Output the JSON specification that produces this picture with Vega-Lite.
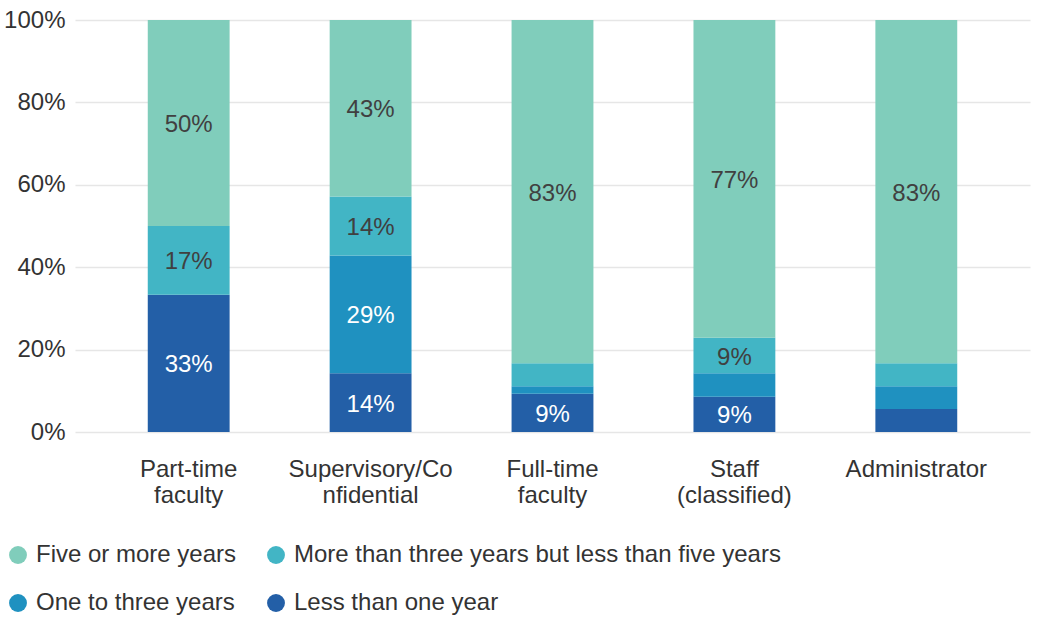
{
  "$schema": "https://vega.github.io/schema/vega-lite/v6.json",
  "width": 955,
  "height": 412,
  "autosize": {"type": "none"},
  "padding": {"left": 75, "top": 20, "right": 7, "bottom": 185},
  "background": "white",
  "config": {
    "view": {"stroke": null},
    "font": "Arial, Liberation Sans, sans-serif",
    "axis": {"labelFont": "Arial, Liberation Sans, sans-serif", "labelFontSize": 24, "labelColor": "#333333"},
    "legend": {"labelFont": "Arial, Liberation Sans, sans-serif", "labelFontSize": 24, "labelColor": "#333333"}
  },
  "data": {
    "values": [
      {"role": "Part-time faculty", "tenure": "Less than one year", "value": 0.3333},
      {"role": "Part-time faculty", "tenure": "One to three years", "value": 0},
      {"role": "Part-time faculty", "tenure": "More than three years but less than five years", "value": 0.1667},
      {"role": "Part-time faculty", "tenure": "Five or more years", "value": 0.5},
      {"role": "Supervisory/Confidential", "tenure": "Less than one year", "value": 0.1429},
      {"role": "Supervisory/Confidential", "tenure": "One to three years", "value": 0.2857},
      {"role": "Supervisory/Confidential", "tenure": "More than three years but less than five years", "value": 0.1429},
      {"role": "Supervisory/Confidential", "tenure": "Five or more years", "value": 0.4285},
      {"role": "Full-time faculty", "tenure": "Less than one year", "value": 0.0926},
      {"role": "Full-time faculty", "tenure": "One to three years", "value": 0.0185},
      {"role": "Full-time faculty", "tenure": "More than three years but less than five years", "value": 0.0556},
      {"role": "Full-time faculty", "tenure": "Five or more years", "value": 0.8333},
      {"role": "Staff (classified)", "tenure": "Less than one year", "value": 0.0857},
      {"role": "Staff (classified)", "tenure": "One to three years", "value": 0.0571},
      {"role": "Staff (classified)", "tenure": "More than three years but less than five years", "value": 0.0857},
      {"role": "Staff (classified)", "tenure": "Five or more years", "value": 0.7715},
      {"role": "Administrator", "tenure": "Less than one year", "value": 0.0556},
      {"role": "Administrator", "tenure": "One to three years", "value": 0.0556},
      {"role": "Administrator", "tenure": "More than three years but less than five years", "value": 0.0556},
      {"role": "Administrator", "tenure": "Five or more years", "value": 0.8332}
    ]
  },
  "transform": [
    {"calculate": "indexof(['Less than one year','One to three years','More than three years but less than five years','Five or more years'], datum.tenure)", "as": "ord"},
    {"stack": "value", "groupby": ["role"], "sort": [{"field": "ord", "order": "ascending"}], "as": ["y0", "y1"]},
    {"calculate": "(datum.y0 + datum.y1) / 2", "as": "ymid"}
  ],
  "encoding": {
    "x": {
      "field": "role",
      "type": "nominal",
      "sort": ["Part-time faculty", "Supervisory/Confidential", "Full-time faculty", "Staff (classified)", "Administrator"],
      "scale": {"paddingInner": 0.55, "paddingOuter": 0.4},
      "axis": {
        "title": null,
        "labelAngle": 0,
        "domain": false,
        "ticks": false,
        "labelPadding": 25,
        "labelLineHeight": 26,
        "labelBaseline": "top",
        "labelExpr": "datum.value == 'Supervisory/Confidential' ? ['Supervisory/Co', 'nfidential'] : split(datum.value, ' ')"
      }
    }
  },
  "layer": [
    {
      "mark": {"type": "bar"},
      "encoding": {
        "y": {
          "field": "y0",
          "type": "quantitative",
          "scale": {"domain": [0, 1], "nice": false},
          "axis": {
            "title": null,
            "format": ".0%",
            "values": [0, 0.2, 0.4, 0.6, 0.8, 1],
            "domain": false,
            "ticks": false,
            "labelPadding": 10,
            "grid": true,
            "gridColor": "#e6e6e6",
            "gridWidth": 1.5
          }
        },
        "y2": {"field": "y1"},
        "color": {
          "field": "tenure",
          "type": "nominal",
          "scale": {
            "domain": ["Five or more years", "More than three years but less than five years", "One to three years", "Less than one year"],
            "range": ["#80cdbb", "#42b5c5", "#1f91c0", "#235fa7"]
          },
          "legend": {
            "title": null,
            "orient": "none",
            "legendX": -69,
            "legendY": 523,
            "direction": "horizontal",
            "columns": 2,
            "columnPadding": 27,
            "rowPadding": 24,
            "symbolType": "circle",
            "symbolSize": 320,
            "symbolStrokeWidth": 0,
            "symbolOpacity": 1,
            "labelOffset": 6,
            "labelLimit": 600
          }
        }
      }
    },
    {
      "transform": [{"filter": "datum.value >= 0.07"}],
      "mark": {"type": "text", "fontSize": 24, "baseline": "middle", "align": "center", "dy": 2},
      "encoding": {
        "y": {"field": "ymid", "type": "quantitative"},
        "text": {"field": "value", "type": "quantitative", "format": ".0%"},
        "color": {
          "condition": {"test": "datum.tenure == 'Less than one year' || datum.tenure == 'One to three years'", "value": "#ffffff"},
          "value": "#404040"
        }
      }
    }
  ]
}
